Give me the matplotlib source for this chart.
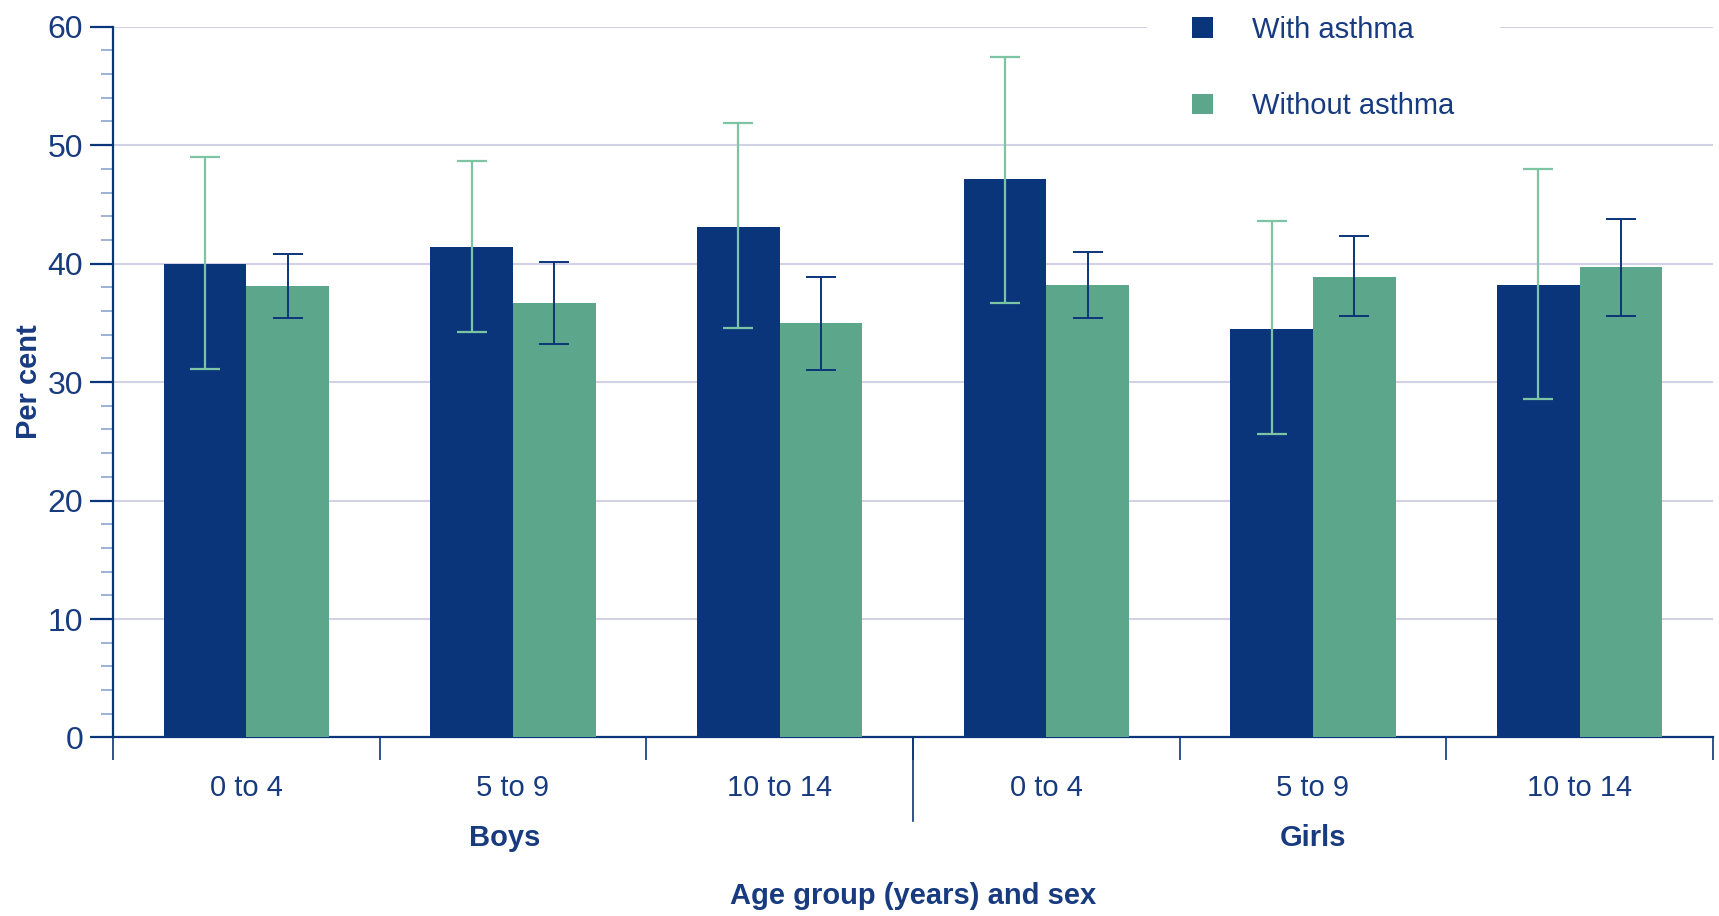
import matplotlib
matplotlib.use("Agg")
import matplotlib.pyplot as plt
import numpy as np
from matplotlib.patches import Patch, Rectangle
from matplotlib.lines import Line2D
from matplotlib.transforms import blended_transform_factory

# --- Data -------------------------------------------------------------------
SEXES = ["Boys", "Girls"]
AGE_GROUPS = ["0 to 4", "5 to 9", "10 to 14"]

WITH_ASTHMA = [40.0, 41.4, 43.1, 47.1, 34.5, 38.2]
WITH_LOW = [31.1, 34.2, 34.6, 36.7, 25.6, 28.6]
WITH_HIGH = [49.0, 48.7, 51.9, 57.4, 43.6, 48.0]

WITHOUT_ASTHMA = [38.1, 36.7, 35.0, 38.2, 38.9, 39.7]
WITHOUT_LOW = [35.4, 33.2, 31.0, 35.4, 35.6, 35.6]
WITHOUT_HIGH = [40.8, 40.1, 38.9, 41.0, 42.3, 43.8]

# --- Style ------------------------------------------------------------------
DARK = "#0a357a"
GREEN = "#5ca78b"
ERR_GREEN = "#7cc4a3"
TEXT = "#183b80"
GRID = "#d2d2e6"
MINOR = "#8ea6cf"
FONT = "Liberation Sans"
FS = 21

plt.rcParams["font.family"] = [FONT, "DejaVu Sans"]


def main():
    fig = plt.figure(figsize=(17.19, 9.16), dpi=100)
    ax = fig.add_axes([0.0657, 0.1949, 0.9308, 0.776])

    n = len(WITH_ASTHMA)
    centers = np.arange(n) + 0.5
    width = 0.31

    with_arr = np.array(WITH_ASTHMA)
    without_arr = np.array(WITHOUT_ASTHMA)
    with_err = [with_arr - np.array(WITH_LOW), np.array(WITH_HIGH) - with_arr]
    without_err = [without_arr - np.array(WITHOUT_LOW),
                   np.array(WITHOUT_HIGH) - without_arr]

    ax.bar(centers - width / 2, with_arr, width, color=DARK, zorder=3)
    ax.bar(centers + width / 2, without_arr, width, color=GREEN, zorder=3)

    ax.errorbar(centers - width / 2, with_arr, yerr=with_err, fmt="none",
                ecolor=ERR_GREEN, elinewidth=1.6, capsize=11, capthick=1.6,
                zorder=4)
    ax.errorbar(centers + width / 2, without_arr, yerr=without_err, fmt="none",
                ecolor=DARK, elinewidth=1.4, capsize=11, capthick=1.4,
                zorder=4)

    # axes limits and grid
    ax.set_xlim(0, n)
    ax.set_ylim(0, 60)
    ax.set_yticks(np.arange(0, 61, 10))
    ax.set_yticks(np.arange(0, 61, 2), minor=True)
    ax.yaxis.grid(True, which="major", color=GRID, linewidth=1.5, zorder=0)
    ax.set_axisbelow(True)

    for side in ["top", "right"]:
        ax.spines[side].set_visible(False)
    for side in ["left", "bottom"]:
        ax.spines[side].set_color(DARK)
        ax.spines[side].set_linewidth(1.6)

    ax.tick_params(axis="y", which="major", length=16.5, width=1.6,
                   color=DARK, labelsize=23, labelcolor=TEXT, pad=5)
    ax.tick_params(axis="y", which="minor", length=8.5, width=1.2,
                   color=MINOR)

    # x: boundaries as major ticks, category labels as minor ticks
    ax.set_xticks(np.arange(0, n + 1))
    ax.set_xticklabels([])
    ax.set_xticks(centers, minor=True)
    ax.set_xticklabels(AGE_GROUPS * len(SEXES), minor=True)
    ax.tick_params(axis="x", which="major", length=16.5, width=1.2,
                   color=DARK)
    ax.tick_params(axis="x", which="minor", length=0, labelsize=FS,
                   labelcolor=TEXT, pad=26)

    # longer divider between sexes
    trans = blended_transform_factory(ax.transData, ax.transAxes)
    ax.add_line(Line2D([3, 3], [0, -0.117], transform=trans, color=DARK,
                       linewidth=1.2, clip_on=False))

    # sex labels, centred under each group of three age bands
    for sex, xpos in zip(SEXES, [1.47, 4.5]):
        ax.text(xpos, -0.142, sex, transform=trans, ha="center",
                va="center", fontsize=FS, fontweight="bold", color=TEXT)

    ax.set_xlabel("Age group (years) and sex", fontsize=FS,
                  fontweight="bold", color=TEXT, labelpad=58)
    ax.set_ylabel("Per cent", fontsize=FS, fontweight="bold", color=TEXT,
                  labelpad=3)

    # white box behind the legend, breaking the top gridline
    ax.add_patch(Rectangle((0.646, 0.96), 0.221, 0.06, transform=ax.transAxes,
                           facecolor="white", edgecolor="none", zorder=2,
                           clip_on=False))

    handles = [
        Patch(facecolor=DARK, label="With asthma"),
        Patch(facecolor=GREEN, label="Without asthma"),
    ]
    leg = ax.legend(handles=handles, loc="upper left",
                    bbox_to_anchor=(1192 / 1719, 1 - 16 / 916),
                    bbox_transform=fig.transFigure, frameon=False,
                    fontsize=FS, handlelength=0.72, handleheight=0.72,
                    handletextpad=1.35, labelspacing=1.65, borderpad=0,
                    borderaxespad=0)
    for t in leg.get_texts():
        t.set_color(TEXT)

    fig.savefig("out.png", dpi=100)


if __name__ == "__main__":
    main()
